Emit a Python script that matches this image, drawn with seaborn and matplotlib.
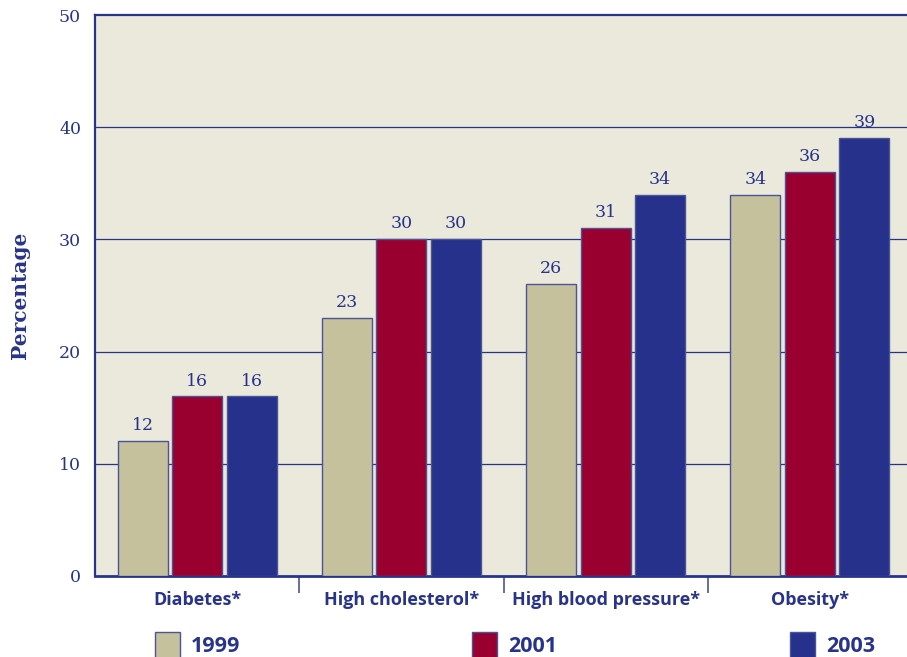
import numpy as np
import pandas as pd
import matplotlib
matplotlib.use("Agg")
import matplotlib.pyplot as plt
import seaborn as sns

categories = ["Diabetes*", "High cholesterol*", "High blood pressure*", "Obesity*"]
years = ["1999", "2001", "2003"]
values_1999 = [12, 23, 26, 34]
values_2001 = [16, 30, 31, 36]
values_2003 = [16, 30, 34, 39]
y_ticks = [0, 10, 20, 30, 40, 50]

NAVY = "#28348A"
EDGE = "#4A5496"
palette = {"1999": "#C5C19D", "2001": "#990030", "2003": "#25318A"}

rows = []
for yr, vals in zip(years, [values_1999, values_2001, values_2003]):
    for cat, v in zip(categories, vals):
        rows.append({"category": cat, "year": yr, "value": v})
df = pd.DataFrame(rows)

sns.set_theme(style="white")
fig = plt.figure(figsize=(9.07, 6.57), dpi=100)
W, H = 907, 657
ax = fig.add_axes([95 / W, 1 - 576 / H, (912 - 95) / W, (576 - 15) / H])
ax.set_facecolor("#EBE8DC")

sns.barplot(data=df, x="category", y="value", hue="year", order=categories,
            hue_order=years, palette=palette, width=0.8, gap=0.08,
            edgecolor=EDGE, linewidth=1.0, saturation=1, ax=ax,
            legend=False, zorder=3)

# value labels above each bar
for cont in ax.containers:
    ax.bar_label(cont, labels=[f"{v:.0f}" for v in cont.datavalues],
                 padding=5, color=NAVY, fontsize=12.5, family="DejaVu Serif")

ax.set_xlim(-0.5, 3.5)
ax.set_ylim(0, 50)
ax.set_yticks(y_ticks)
ax.set_yticklabels([str(t) for t in y_ticks], family="DejaVu Serif",
                   fontsize=12.5, color=NAVY)
ax.tick_params(axis="y", length=0, pad=10)

for t in y_ticks[1:-1]:
    ax.axhline(t, color=NAVY, lw=0.9, zorder=1)

ax.set_xticks(range(len(categories)))
ax.set_xticklabels(categories, fontsize=13, fontweight="bold",
                   color=NAVY, family="Open Sans")
ax.tick_params(axis="x", which="major", length=0, pad=11)
ax.set_xticks([0.5, 1.5, 2.5], minor=True)
ax.tick_params(axis="x", which="minor", bottom=True, length=12, width=1.2,
               color=EDGE, direction="out")

for side in ["top", "left"]:
    ax.spines[side].set_color(NAVY)
    ax.spines[side].set_linewidth(1.6)
ax.spines["bottom"].set_color(NAVY)
ax.spines["bottom"].set_linewidth(2.0)
ax.spines["right"].set_visible(False)

ax.set_xlabel("")
ax.set_ylabel("Percentage", family="DejaVu Serif", fontweight="bold",
              fontsize=14.5, color=NAVY, labelpad=21)

# legend swatches spread across the bottom
for yr, x0 in zip(years, [155, 472, 790]):
    fig.patches.append(matplotlib.patches.Rectangle(
        (x0 / W, 1 - 658 / H), 25 / W, 26 / H, transform=fig.transFigure,
        facecolor=palette[yr], edgecolor=EDGE, lw=1.0))
    fig.text((x0 + 36) / W, 1 - 646 / H, yr, fontsize=15.5, fontweight="bold",
             color=NAVY, family="Open Sans", va="center", ha="left")

fig.savefig("out.png", dpi=100, facecolor="white")
